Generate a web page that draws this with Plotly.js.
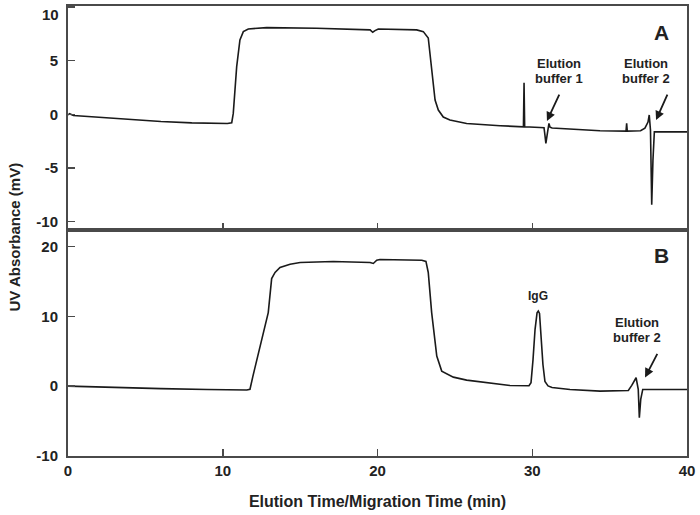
<!DOCTYPE html>
<html>
<head>
<meta charset="utf-8">
<script src="https://cdn.plot.ly/plotly-3.0.1.min.js"></script>
<style>html,body{margin:0;padding:0;background:#fff;}#chart{width:700px;height:515px;}</style>
</head>
<body>
<div id="chart"></div>
<script>
// Panel A (top) trace
const timeA = [0, 0.1, 0.35, 2, 4, 6, 8, 10.3, 10.58, 10.68, 10.9, 11.11, 11.33, 11.65, 12.84, 16.07, 19.52, 19.69, 19.84, 20.05, 22.53, 22.96, 23.28, 23.5, 23.72, 23.93, 24.25, 24.68, 25.76, 27.92, 29.43, 29.47, 29.51, 30.5, 30.76, 30.82, 30.88, 30.99, 31.08, 31.15, 31.28, 34.38, 36.06, 36.1, 36.14, 37.0, 37.28, 37.48, 37.56, 37.64, 37.72, 37.8, 37.89, 40];
const signalA = [-0.07, 0.05, -0.12, -0.3, -0.5, -0.68, -0.8, -0.86, -0.79, 0.08, 4.44, 6.93, 7.71, 7.96, 8.08, 8.03, 7.87, 7.65, 7.8, 7.96, 7.87, 7.71, 7.12, 4.44, 1.33, 0.39, -0.26, -0.54, -0.87, -1.07, -1.17, 2.94, -1.17, -1.24, -1.26, -1.94, -2.72, -1.66, -0.85, -1.2, -1.29, -1.54, -1.57, -0.85, -1.57, -1.54, -1.29, -0.73, -0.07, -1.48, -8.45, -4.28, -1.64, -1.64];

// Panel B (bottom) trace
const timeB = [0, 3, 6, 9, 11.55, 11.76, 11.95, 12.94, 13.16, 13.38, 13.7, 14.35, 15.0, 17.14, 19.52, 19.73, 19.95, 20.16, 22.86, 23.13, 23.28, 23.5, 23.83, 24.15, 24.9, 25.76, 27.92, 28.56, 29.79, 29.92, 30.05, 30.18, 30.31, 30.39, 30.47, 30.57, 30.69, 30.82, 31.02, 31.28, 32.44, 34.38, 36.21, 36.43, 36.71, 36.85, 36.92, 37.01, 37.14, 40];
const signalB = [0, -0.2, -0.35, -0.48, -0.56, -0.45, 1.43, 10.53, 15.4, 16.27, 17.0, 17.46, 17.7, 17.85, 17.7, 17.56, 18.03, 18.13, 18.03, 17.85, 16.27, 10.53, 4.3, 2.15, 1.29, 0.86, 0.24, 0.1, 0.06, 0.5, 3.8, 8.1, 10.5, 10.76, 10.4, 7.4, 3.1, 0.67, 0.03, -0.19, -0.47, -0.72, -0.62, 0.1, 1.2, -0.47, -4.53, -1.9, -0.47, -0.47];

const xTicks = [0, 10, 20, 30, 40];
const xTickText = ['0', '10', '20', '30', '40'];
const yTicksA = [-10, -5, 0, 5, 10];
const yTickTextA = ['-10', '-5', '0', '5', ''];   // top "10" label drawn separately (sits lower in the original)
const topLabelA = '10';
const yTicksB = [-10, 0, 10, 20];
const yTickTextB = ['-10', '0', '10', '20'];

const FONT = 'Liberation Sans, Arial, Helvetica, sans-serif';
const INK = '#1a1a1a';
const AX = '#4a4a4a';

const traces = [
  {x: timeA, y: signalA, xaxis: 'x2', yaxis: 'y2', mode: 'lines', line: {color: INK, width: 1.6}, hoverinfo: 'skip'},
  {x: timeB, y: signalB, xaxis: 'x', yaxis: 'y', mode: 'lines', line: {color: INK, width: 1.6}, hoverinfo: 'skip'}
];

const common = {
  ticks: 'inside', ticklen: 7, tickwidth: 1.5, tickcolor: AX,
  showline: true, linecolor: AX, linewidth: 2, mirror: true,
  showgrid: false, zeroline: false, ticklabeloverflow: 'allow',
  tickfont: {family: FONT, size: 15, weight: 'bold', color: '#222'}
};

const boldFont = (s) => ({family: FONT, size: s, weight: 'bold', color: '#222'});

const layout = {
  width: 700, height: 515,
  margin: {l: 68, r: 13, t: 6, b: 59},
  paper_bgcolor: '#fff', plot_bgcolor: '#fff',
  showlegend: false,
  xaxis: Object.assign({}, common, {
    domain: [0, 1], range: [0, 40], anchor: 'y', tickvals: xTicks, ticktext: xTickText,
    title: {text: 'Elution Time/Migration Time (min)', font: boldFont(16), standoff: 18}
  }),
  xaxis2: Object.assign({}, common, {
    domain: [0, 1], range: [0, 40], anchor: 'y2', matches: 'x', tickvals: xTicks, showticklabels: false
  }),
  yaxis: Object.assign({}, common, {
    domain: [0, 0.5022], range: [-10, 22.35], anchor: 'x', tickvals: yTicksB, ticktext: yTickTextB,
    ticklabelstandoff: 5
  }),
  yaxis2: Object.assign({}, common, {
    domain: [0.5022, 1], range: [-10.8, 10.1], anchor: 'x2', tickvals: yTicksA, ticktext: yTickTextA,
    ticklabelstandoff: 5
  }),
  annotations: [
    {xref: 'paper', yref: 'paper', x: -0.0864, y: 0.4867, text: 'UV Absorbance (mV)', textangle: -90,
     showarrow: false, xanchor: 'center', yanchor: 'middle', font: boldFont(15)},
    {xref: 'paper', yref: 'paper', x: -0.0113, y: 0.9815, text: topLabelA, showarrow: false,
     xanchor: 'right', yanchor: 'middle', font: boldFont(15)},
    {xref: 'x2', yref: 'y2', x: 38.38, y: 7.59, text: 'A', showarrow: false, font: boldFont(21)},
    {xref: 'x', yref: 'y', x: 38.38, y: 18.75, text: 'B', showarrow: false, font: boldFont(21)},
    {xref: 'x2', yref: 'y2', x: 31.73, y: 4.75, text: 'Elution', showarrow: false, font: boldFont(13)},
    {xref: 'x2', yref: 'y2', x: 31.73, y: 3.35, text: 'buffer 1', showarrow: false, font: boldFont(13)},
    {xref: 'x2', yref: 'y2', x: 37.35, y: 4.75, text: 'Elution', showarrow: false, font: boldFont(13)},
    {xref: 'x2', yref: 'y2', x: 37.35, y: 3.35, text: 'buffer 2', showarrow: false, font: boldFont(13)},
    {xref: 'x', yref: 'y', x: 30.37, y: 12.87, text: 'IgG', showarrow: false, font: boldFont(12)},
    {xref: 'x', yref: 'y', x: 36.74, y: 9.1, text: 'Elution', showarrow: false, font: boldFont(13)},
    {xref: 'x', yref: 'y', x: 36.74, y: 6.95, text: 'buffer 2', showarrow: false, font: boldFont(13)},
    {xref: 'x2', yref: 'y2', x: 30.95, y: -0.64, text: '', showarrow: true, ax: 13, ay: -28,
     arrowhead: 2, arrowsize: 1, arrowwidth: 1.8, arrowcolor: INK, standoff: 0},
    {xref: 'x2', yref: 'y2', x: 38.0, y: -0.54, text: '', showarrow: true, ax: 12, ay: -27,
     arrowhead: 2, arrowsize: 1, arrowwidth: 1.8, arrowcolor: INK, standoff: 0},
    {xref: 'x', yref: 'y', x: 37.29, y: 1.25, text: '', showarrow: true, ax: 13, ay: -25,
     arrowhead: 2, arrowsize: 1, arrowwidth: 1.8, arrowcolor: INK, standoff: 0}
  ]
};

Plotly.newPlot('chart', traces, layout, {staticPlot: true, displayModeBar: false});
</script>
</body>
</html>
